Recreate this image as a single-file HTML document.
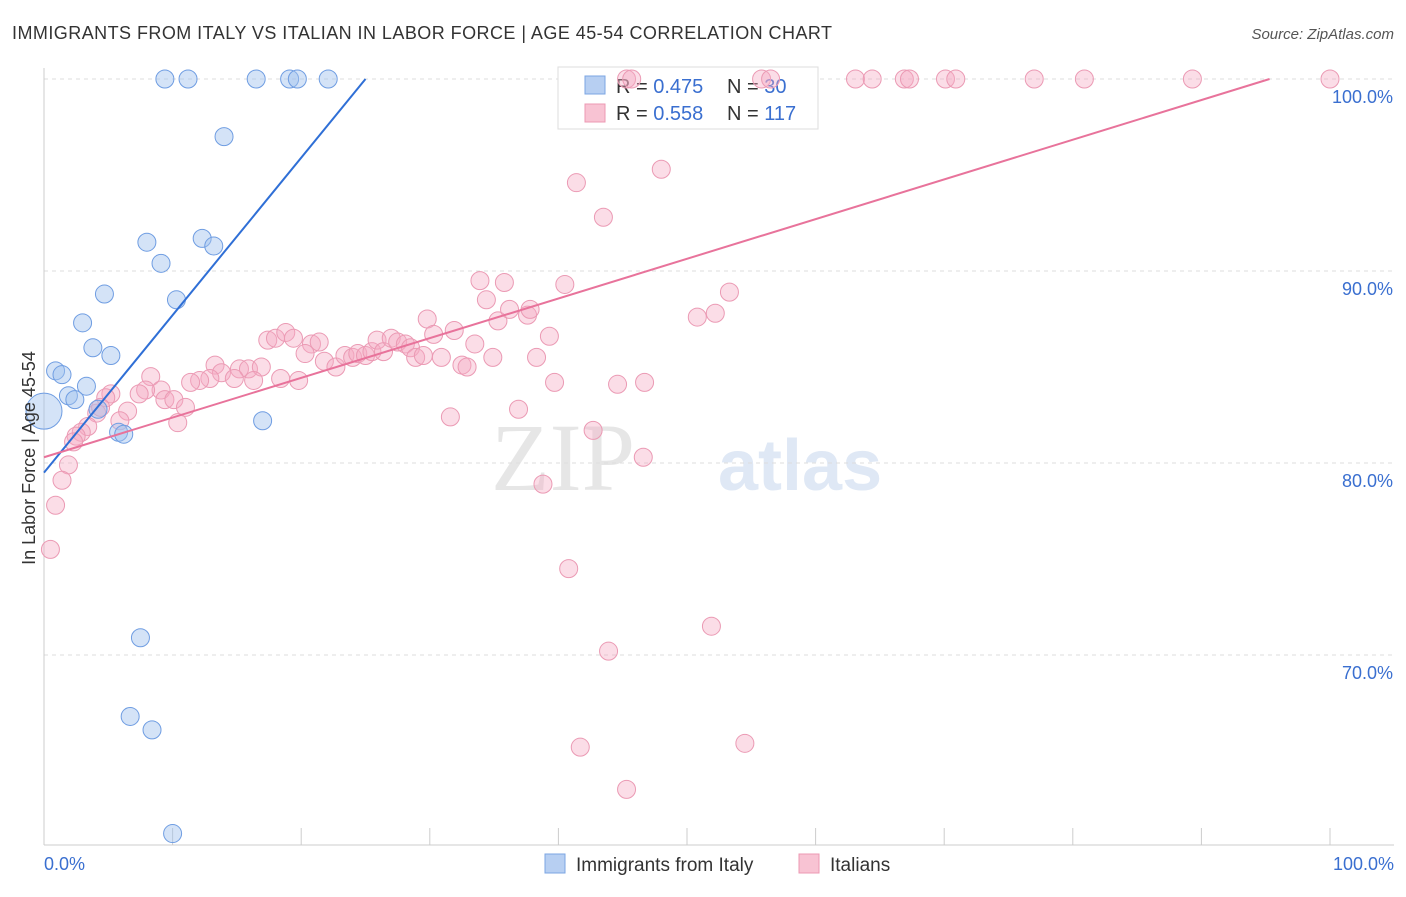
<!DOCTYPE html>
<html><head><meta charset="utf-8"><style>
body{margin:0;background:#fff;font-family:"Liberation Sans",sans-serif}
#c{position:relative;width:1406px;height:892px}
</style></head><body>
<div id="c">
<svg id="s" width="1406" height="892">
<text x="12" y="39" font-size="18" fill="#333" letter-spacing="0.45">IMMIGRANTS FROM ITALY VS ITALIAN IN LABOR FORCE | AGE 45-54 CORRELATION CHART</text>
<text x="1394" y="39" font-size="15" fill="#555" font-style="italic" text-anchor="end">Source: ZipAtlas.com</text>
<text x="635" y="490" font-size="96" fill="#e6e6e6" text-anchor="end" font-family="Liberation Serif">ZIP</text>
<text x="718" y="490" font-size="72" fill="#dfe8f5" font-weight="bold">atlas</text>
<g id="grid"></g>
<g>
<rect x="558" y="67" width="260" height="62" fill="#fff" stroke="#ddd"/>
<rect x="585" y="76" width="20" height="18" fill="#b7cff2" stroke="#7ba5e3"/>
<text x="616" y="93" font-size="20" fill="#333">R = <tspan fill="#3a6fd0">0.475</tspan></text>
<text x="727" y="93" font-size="20" fill="#333">N = <tspan fill="#3a6fd0">30</tspan></text>
<rect x="585" y="104" width="20" height="18" fill="#f8c3d3" stroke="#ec98b3"/>
<text x="616" y="120" font-size="20" fill="#333">R = <tspan fill="#3a6fd0">0.558</tspan></text>
<text x="727" y="120" font-size="20" fill="#333">N = <tspan fill="#3a6fd0">117</tspan></text>
</g>
<g id="pts"></g><g id="lines"></g>
<text x="35" y="458" font-size="18" fill="#333" text-anchor="middle" transform="rotate(-90 35 458)">In Labor Force | Age 45-54</text>
<g>
<rect x="545" y="854" width="20" height="19" fill="#b7cff2" stroke="#7ba5e3"/>
<text x="576" y="871" font-size="19" fill="#333">Immigrants from Italy</text>
<rect x="799" y="854" width="20" height="19" fill="#f8c3d3" stroke="#ec98b3"/>
<text x="830" y="871" font-size="19" fill="#333">Italians</text>
</g>
<text x="44" y="870" font-size="18" fill="#3a6fd0">0.0%</text>
<text x="1394" y="870" font-size="18" fill="#3a6fd0" text-anchor="end">100.0%</text>
</svg></div>
<script>
const yTicks=[100,90,80,70];
const blueX=[9.4,11.2,16.5,19.1,19.7,22.1,14.0,8.0,12.3,13.2,9.1,10.3,4.7,3.0,3.8,5.2,0.9,1.4,3.3,1.9,2.4,4.2,0,5.8,6.2,17.0,7.5,6.7,8.4,10.0];
const blueY=[100,100,100,100,100,100,97.0,91.5,91.7,91.3,90.4,88.5,88.8,87.3,86.0,85.6,84.8,84.6,84.0,83.5,83.3,82.8,82.7,81.6,81.5,82.2,70.9,66.8,66.1,60.7];
const pinkX=[45.3,45.7,55.8,56.5,63.1,64.4,66.9,67.3,70.1,70.9,77.0,80.9,89.3,100,41.4,48.0,43.5,33.9,35.8,40.5,34.4,53.3,35.3,36.2,37.6,37.8,52.2,50.8,29.8,31.9,30.3,39.3,33.5,34.9,38.3,17.4,18.0,18.8,19.4,20.8,21.4,20.3,21.8,22.7,23.4,24.0,24.4,25.0,25.5,25.9,26.4,27.0,27.5,28.1,28.5,28.9,29.5,30.9,32.5,32.9,39.7,44.6,46.7,31.6,36.9,42.7,46.6,38.8,40.8,51.9,43.9,41.7,54.5,45.3,13.3,13.8,15.2,15.9,16.9,14.8,12.9,12.1,11.4,16.3,18.4,19.8,8.3,9.1,7.9,7.4,5.2,4.8,9.4,10.1,11.0,6.5,4.1,4.4,5.9,10.4,3.4,2.9,2.5,2.3,1.9,1.4,0.9,0.5];
const pinkY=[100,100,100,100,100,100,100,100,100,100,100,100,100,100,94.6,95.3,92.8,89.5,89.4,89.3,88.5,88.9,87.4,88.0,87.7,88.0,87.8,87.6,87.5,86.9,86.7,86.6,86.2,85.5,85.5,86.4,86.5,86.8,86.5,86.2,86.3,85.7,85.3,85.0,85.6,85.5,85.7,85.6,85.8,86.4,85.8,86.5,86.3,86.2,86.0,85.5,85.6,85.5,85.1,85.0,84.2,84.1,84.2,82.4,82.8,81.7,80.3,78.9,74.5,71.5,70.2,65.2,65.4,63.0,85.1,84.7,84.9,84.9,85.0,84.4,84.4,84.3,84.2,84.3,84.4,84.3,84.5,83.8,83.8,83.6,83.6,83.4,83.3,83.3,82.9,82.7,82.6,82.9,82.2,82.1,81.9,81.6,81.4,81.1,79.9,79.1,77.8,75.5];
const blueLineX=[0,25.0], blueLineY=[79.5,100];
const pinkLineX=[0,95.3], pinkLineY=[80.3,100];
const NS='http://www.w3.org/2000/svg';
const sx=v=>44+v*12.86, sy=v=>79+(100-v)*19.2;
function mk(t,a,p){const e=document.createElementNS(NS,t);for(const k in a)e.setAttribute(k,a[k]);p.appendChild(e);return e;}
const g=document.getElementById('grid');
yTicks.forEach(t=>{
 const l=mk('line',{x1:44,x2:1394,y1:sy(t),y2:sy(t),stroke:'#ddd','stroke-dasharray':'4,4'},g);
 
 
 const tx=mk('text',{x:1393,y:sy(t)+24,'font-size':18,fill:'#3a6fd0','text-anchor':'end'},g);
 tx.textContent=t.toFixed(1)+'%';
 
 
});
mk('line',{x1:44,x2:44,y1:68,y2:845,stroke:'#ccc'},g);
mk('line',{x1:44,x2:1394,y1:845,y2:845,stroke:'#ccc'},g);
for(let i=0;i<=10;i++){const l=mk('line',{x1:sx(i*10),x2:sx(i*10),y1:828,y2:845,stroke:'#ccc'},g);
 
 }
const P=document.getElementById('pts');
pinkX.forEach((x,i)=>{const c=mk('circle',{cx:sx(x),cy:sy(pinkY[i]),r:9,fill:'rgba(244,170,195,0.4)',stroke:'#eb9ab4','stroke-width':1},P);
 
 });
blueX.forEach((x,i)=>{const c=mk('circle',{cx:sx(x),cy:sy(blueY[i]),r:(x===0?18:9),fill:'rgba(160,192,238,0.45)',stroke:'#6f9de2','stroke-width':1},P);
 
 });
const L=document.getElementById('lines');
const b=mk('line',{x1:sx(blueLineX[0]),y1:sy(blueLineY[0]),x2:sx(blueLineX[1]),y2:sy(blueLineY[1]),stroke:'#2f6fd6','stroke-width':2},L);


const p=mk('line',{x1:sx(pinkLineX[0]),y1:sy(pinkLineY[0]),x2:sx(pinkLineX[1]),y2:sy(pinkLineY[1]),stroke:'#e8739b','stroke-width':2},L);


</script>
</body></html>
